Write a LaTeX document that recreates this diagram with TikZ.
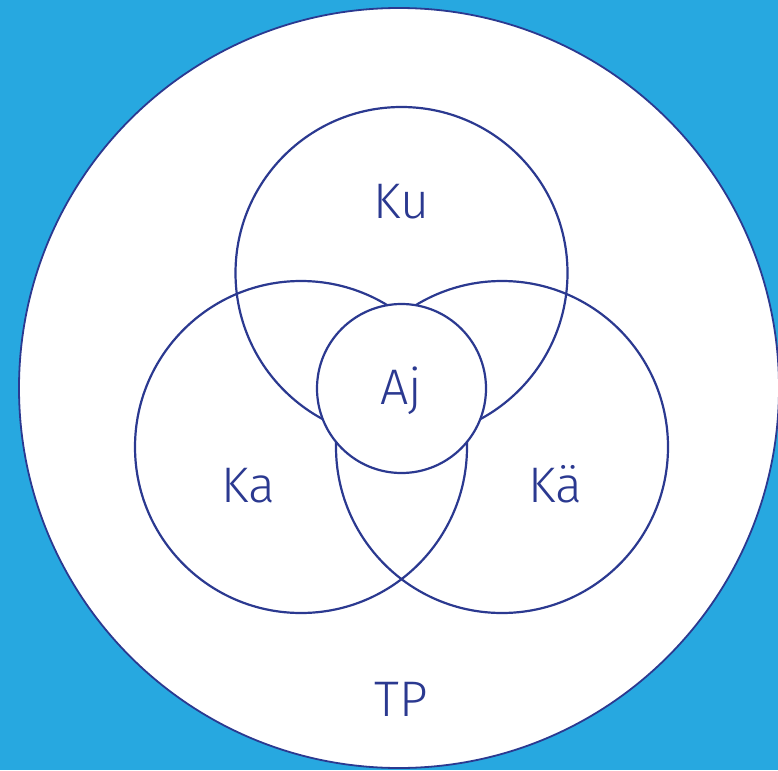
\documentclass[tikz,border=0pt]{standalone}
\usepackage{fontspec}
\setmainfont{Fira Sans Light}
\definecolor{bgblue}{HTML}{27A8E0}
\definecolor{navy}{HTML}{2B3990}
\begin{document}
\begin{tikzpicture}[x=1pt,y=-1pt,
  ring/.style={draw=navy,line width=2.2pt},
  lbl/.style={text=navy,font=\fontsize{50}{60}\selectfont,anchor=base,inner sep=0pt}]
\fill[bgblue] (0,0) rectangle (778,770);
\useasboundingbox (0,0) rectangle (778,770);
\fill[white] (399,388) circle (380);
\draw[navy,line width=1.8pt] (399,388) circle (380);
\coordinate (cu) at (401.5,273);
\coordinate (ca) at (301,447);
\coordinate (ce) at (502,447);
\coordinate (cj) at (401.5,388.5);
\draw[ring] (cu) circle (166);
\draw[ring] (ca) circle (166);
\draw[ring] (ce) circle (166);
\draw[ring,fill=white] (cj) circle (84.5);
\node[lbl] (ku) at (401,218) {Ku};
\node[lbl] (aj) at (401,404) {Aj};
\node[lbl] (ka) at (248,502) {Ka};
\node[lbl] (kae) at (555,502) {Kä};
\node[lbl] (tp) at (401,716) {TP};
\end{tikzpicture}
\end{document}
